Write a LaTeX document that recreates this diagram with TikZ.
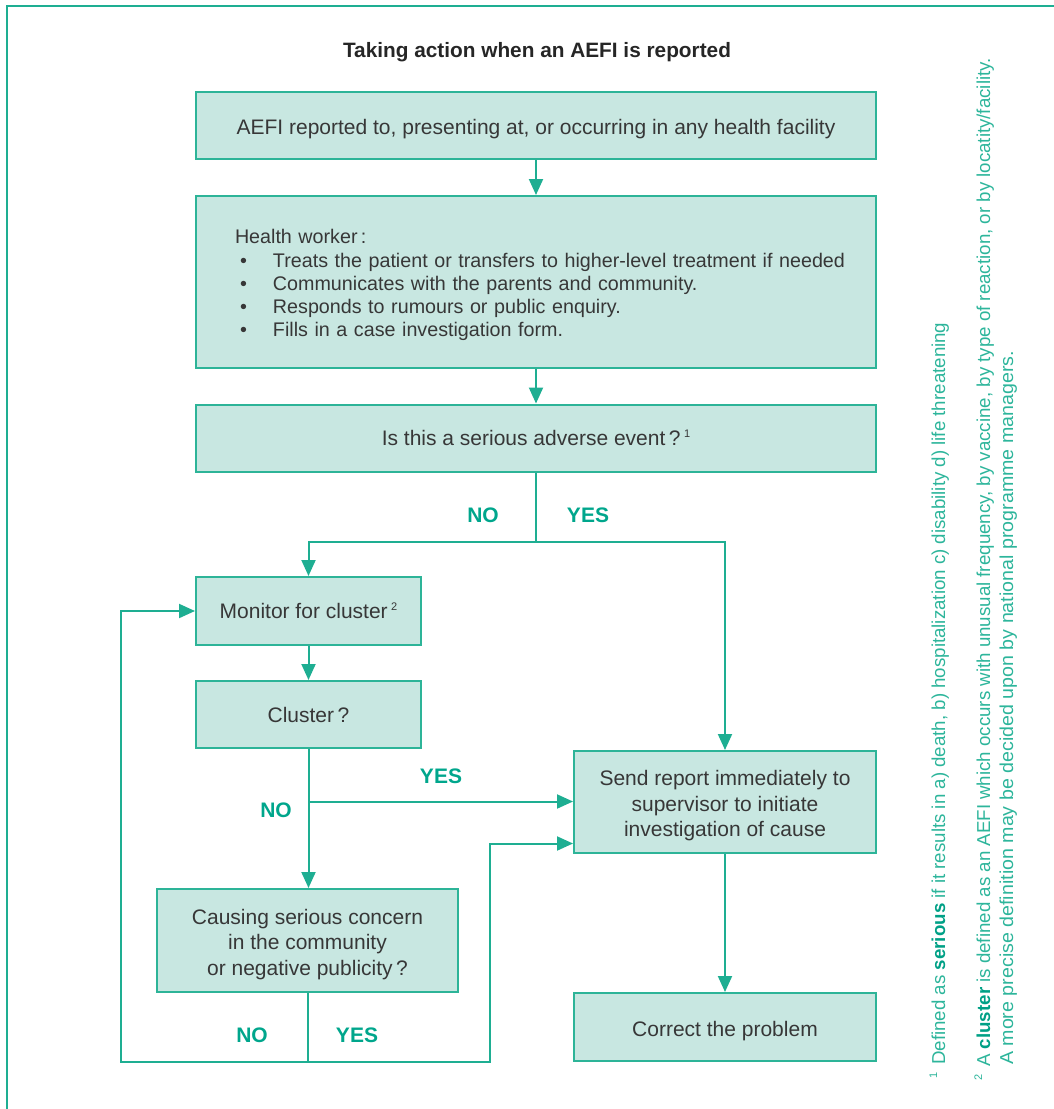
\documentclass[tikz,border=0pt]{standalone}
\usepackage{fontspec}
\setmainfont{Liberation Sans}
\usetikzlibrary{arrows.meta}
\definecolor{boxfill}{RGB}{200,231,225}
\definecolor{boxline}{RGB}{45,180,152}
\definecolor{lnk}{RGB}{30,174,146}
\definecolor{lab}{RGB}{0,166,140}
\definecolor{txt}{RGB}{55,55,55}
\definecolor{fnc}{RGB}{45,181,155}
\definecolor{fnb}{RGB}{0,160,134}
\newcommand\blt{\makebox[38pt][l]{\hspace{5pt}\textbullet}}
\newcommand\mysup[1]{\raisebox{8pt}{\fontsize{11}{11}\selectfont #1}}
\newcommand\tp{\rule{0pt}{22.5pt}}
\begin{document}
\begin{tikzpicture}[x=1pt,y=-1pt,
  box/.style={draw=boxline, line width=2pt, fill=boxfill, inner sep=0pt, text=txt,
    font=\fontsize{21}{25.5}\selectfont, align=center},
  conn/.style={draw=lnk, line width=2pt},
  arr/.style={conn, -{Triangle[length=16pt,width=14pt]}},
  labstyle/.style={text=lab, font=\fontsize{21}{21}\selectfont\bfseries, inner sep=0pt},
  fn/.style={text=fnc, font=\fontsize{18.7}{22}\selectfont, inner sep=0pt, rotate=90, anchor=base west}]
\useasboundingbox (0,0) rectangle (1054,1109);
% frame
\draw[draw=lnk, line width=2pt] (1054,6) -- (7,6) -- (7,1109);
% title
\node[text=black!85, font=\fontsize{20.8}{24}\selectfont\bfseries, inner sep=0pt] (title) at (537,52) {Taking action when an AEFI is reported};
% boxes
\node[box, minimum width=680pt, minimum height=67pt] (b1) at (536,125.5) {\tp AEFI reported to, presenting at, or occurring in any health facility};
\node[box, minimum width=680pt, minimum height=172pt, text width=602pt, align=left,
  font=\fontsize{19.7}{23.2}\selectfont] (b2) at (536,282)
  {\mbox{\rule{0pt}{20.5pt}Health worker\,:}\\
   \mbox{\blt Treats the patient or transfers to higher-level treatment if needed}\\
   \mbox{\blt Communicates with the parents and community.}\\
   \mbox{\blt Responds to rumours or public enquiry.}\\
   \mbox{\blt Fills in a case investigation form.}};
\node[box, minimum width=680pt, minimum height=67pt] (b3) at (536,438) {Is this a serious adverse event\,?\,\mysup{1}};
\node[box, minimum width=225pt, minimum height=68pt] (mon) at (308.5,611) {Monitor for cluster\,\mysup{2}};
\node[box, minimum width=225pt, minimum height=67pt] (clu) at (308.5,714.5) {Cluster\,?};
\node[box, minimum width=301pt, minimum height=103pt] (cau) at (307.5,940.5) {\tp Causing serious concern\\in the community\\or negative publicity\,?};
\node[box, minimum width=302pt, minimum height=102pt] (send) at (725,802) {\tp Send report immediately to\\supervisor to initiate\\investigation of cause};
\node[box, minimum width=302pt, minimum height=68pt] (corr) at (725,1027) {\tp Correct the problem};
% junctions
\coordinate (j1) at (536,541.5);
\coordinate (j2) at (308.5,801.5);
\coordinate (j3) at (307.5,1061.5);
\coordinate (lc) at (121,1061.5);
\coordinate (rc) at (490,1061.5);
\coordinate (sendin) at ([yshift=10.5pt]send.south west);
% connectors
\draw[arr] (b1.south) -- (b2.north);
\draw[arr] (b2.south) -- (b3.north);
\draw[conn] (b3.south) -- (j1);
\draw[arr] (j1) -| (mon.north);
\draw[arr] (j1) -| (send.north);
\draw[arr] (mon.south) -- (clu.north);
\draw[arr] (clu.south) -- (clu.south |- cau.north);
\draw[arr] (j2) -- (j2 -| send.west);
\draw[conn] (cau.south) -- (j3);
\draw[arr] (j3) -- (lc) |- (mon.west);
\draw[arr] (j3) -- (rc) |- (sendin);
\draw[arr] (send.south) -- (corr.north);
% labels
\node[labstyle] (no1) at (483,515) {NO};
\node[labstyle] (yes1) at (588,515) {YES};
\node[labstyle] (yes2) at (441,776) {YES};
\node[labstyle] (no2) at (276,810) {NO};
\node[labstyle] (no3) at (252,1035) {NO};
\node[labstyle] (yes3) at (357,1035) {YES};
% footnotes
\node[fn] (fn1) at (945,1079) {\mysup{1}\hspace{8pt}Defined as {\bfseries\color{fnb}serious} if it results in a) death, b) hospitalization c) disability d) life threatening};
\node[fn] (fn2) at (990,1081) {\mysup{2}\hspace{8pt}A {\bfseries\color{fnb}cluster} is defined as an AEFI which occurs with unusual frequency, by vaccine, by type of reaction, or by locatity/facility.};
\node[fn] (fn3) at (1013,1065) {\scalebox{1.05}[1]{A more precise definition may be decided upon by national programme managers.}};
\end{tikzpicture}
\end{document}
